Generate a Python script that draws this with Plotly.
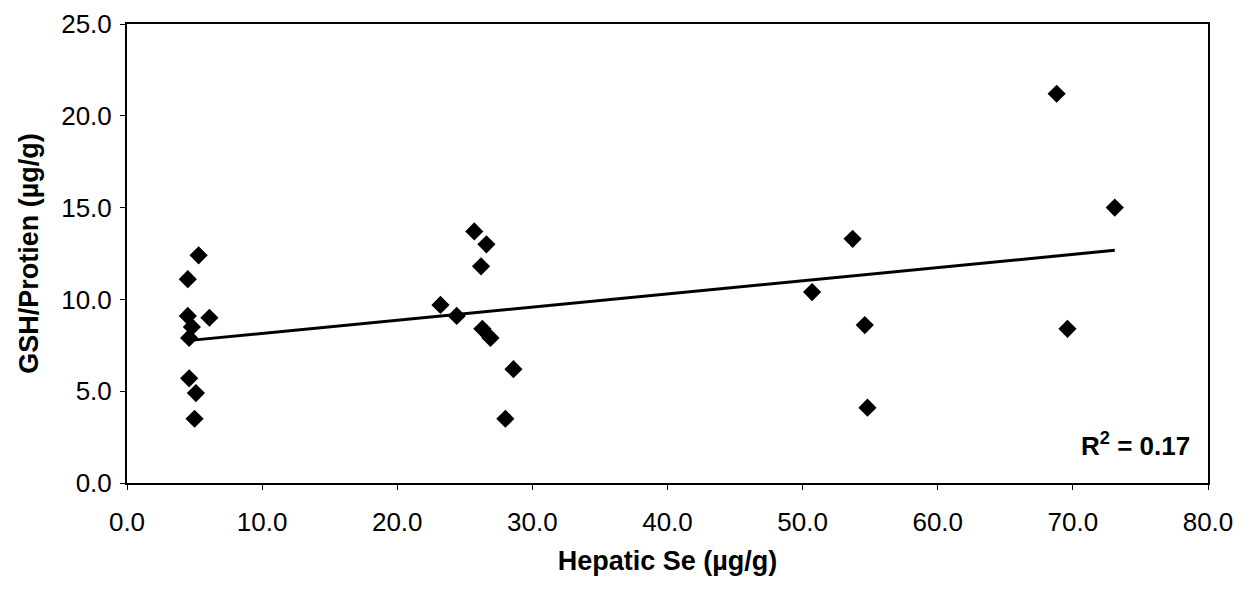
import numpy as np
import plotly.graph_objects as go

# hepatic Se (ug/g) vs GSH/protein (ug/g)
hepatic_se = [5.3, 4.5, 4.5, 6.1, 4.8, 4.6, 4.6, 5.1, 5.0,
              25.7, 26.6, 26.2, 23.2, 24.4, 26.3, 26.9, 28.6, 28.0,
              53.7, 50.7, 54.6, 54.8,
              68.8, 73.1, 69.6]
gsh_protein = [12.4, 11.1, 9.1, 9.0, 8.5, 7.9, 5.7, 4.9, 3.5,
               13.7, 13.0, 11.8, 9.7, 9.1, 8.4, 7.9, 6.2, 3.5,
               13.3, 10.4, 8.6, 4.1,
               21.2, 15.0, 8.4]

x_ticks = [0, 10, 20, 30, 40, 50, 60, 70, 80]
y_ticks = [0, 5, 10, 15, 20, 25]

x = np.array(hepatic_se)
y = np.array(gsh_protein)
slope, intercept = np.polyfit(x, y, 1)
fit_x = np.array([x.min(), x.max()])
fit_y = slope * fit_x + intercept

font = "Liberation Sans, Arial, sans-serif"

fig = go.Figure()
fig.add_trace(go.Scatter(
    x=fit_x, y=fit_y, mode="lines",
    line=dict(color="black", width=3), showlegend=False,
))
fig.add_trace(go.Scatter(
    x=hepatic_se, y=gsh_protein, mode="markers",
    marker=dict(symbol="diamond", size=14, color="black"),
    showlegend=False,
))

fig.add_annotation(
    x=1.0, y=0.0, xref="paper", yref="paper",
    xanchor="right", yanchor="bottom", xshift=-16, yshift=20,
    text="<b>R<sup>2</sup> = 0.17</b>", showarrow=False,
    font=dict(family=font, size=26, color="black"),
)

axis_common = dict(
    showgrid=False, zeroline=False, showline=True, mirror=True,
    linecolor="black", linewidth=2, automargin=False,
    ticks="outside", ticklen=5, tickcolor="black", tickwidth=1,
    tickfont=dict(family=font, size=26, color="black"),
)

fig.update_xaxes(
    range=[0, 80], tickvals=x_ticks, ticktext=[f"{v:.1f}" for v in x_ticks],
    ticklabelstandoff=10,
    title=dict(text="<b>Hepatic Se (µg/g)</b>", font=dict(family=font, size=27, color="black")),
    **axis_common,
)
fig.update_yaxes(
    range=[0, 25], tickvals=y_ticks, ticktext=[f"{v:.1f}" for v in y_ticks],
    ticklabelstandoff=3,
    title=dict(text="<b>GSH/Protien (µg/g)</b>", font=dict(family=font, size=27, color="black")),
    **axis_common,
)

# the page adds an 8px body margin, so the figure is sized to fit the window
fig.update_layout(
    width=1239, height=581,
    margin=dict(l=119, r=39, t=16, b=106),
    plot_bgcolor="white", paper_bgcolor="white",
)

fig.write_html("out.html")
